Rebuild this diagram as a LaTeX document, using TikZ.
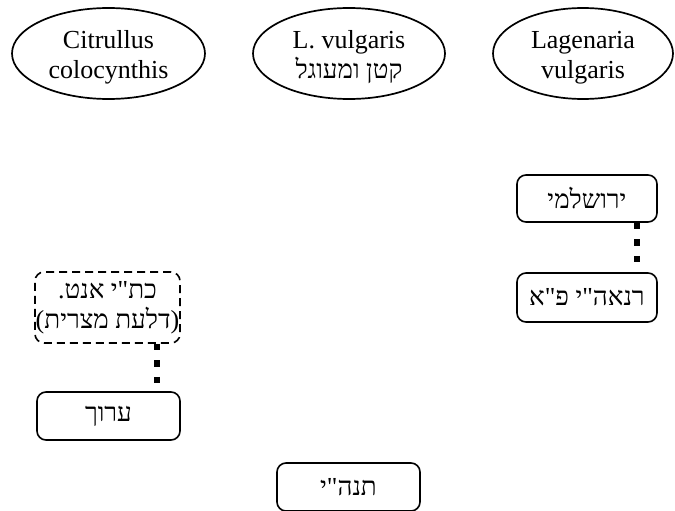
\documentclass[tikz,border=0pt]{standalone}
\usepackage{fontspec}
\setmainfont{Liberation Serif}
\newfontfamily\hebfont[Script=Hebrew]{Liberation Serif}
\TeXXeTstate=1
\usetikzlibrary{shapes.geometric}
\newcommand{\heb}[1]{{\hebfont\fontsize{26}{31}\selectfont\beginR #1\endR}}
\newcommand{\upstrut}{\rule{0pt}{25pt}}
\begin{document}
\begin{tikzpicture}[x=1pt,y=-1pt,
  every node/.style={font=\fontsize{26}{30}\selectfont},
  oval/.style={draw, ellipse, line width=1.7pt, inner sep=0pt, minimum height=91pt, align=center},
  rbox/.style={draw, rounded corners=9pt, line width=1.6pt, minimum width=141pt, minimum height=48pt, inner sep=0pt, align=center},
  dbox/.style={rbox, dash pattern=on 8pt off 5pt, minimum height=71pt, minimum width=145pt},
  dotlink/.style={line width=6.5pt, dash pattern=on 6.5pt off 10pt}]
\useasboundingbox (0,0) rectangle (675,511);
\node[oval, minimum width=193pt] (cit) at (108.5,53.5) {\upstrut Citrullus\\colocynthis};
\node[oval, minimum width=192pt] (lv) at (349,53.5) {\upstrut L. vulgaris\\\heb{קטן ומעוגל}};
\node[oval, minimum width=180pt] (lag) at (583,53.5) {\upstrut Lagenaria\\vulgaris};
\node[rbox, minimum width=140pt, minimum height=47pt] (yer) at (587,198.5) {\heb{ירושלמי}};
\node[rbox, minimum width=140pt, minimum height=49pt] (rn) at (587,297.5) {\heb{רנאה"י פ"א}};
\node[dbox] (ant) at (107.5,307.5) {\heb{כת"י אנט.}\\\heb{(דלעת מצרית)}};
\node[rbox, minimum width=143pt] (ar) at (108.5,416) {\heb{ערוך}};
\node[rbox, minimum width=143pt] (tn) at (348.5,487) {\heb{תנה"י}};
\draw[dotlink] ([xshift=50pt]yer.south) -- ([xshift=50pt]rn.north);
\draw[dotlink] ([xshift=49.5pt]ant.south) -- ([xshift=48.5pt]ar.north);
\end{tikzpicture}
\end{document}
